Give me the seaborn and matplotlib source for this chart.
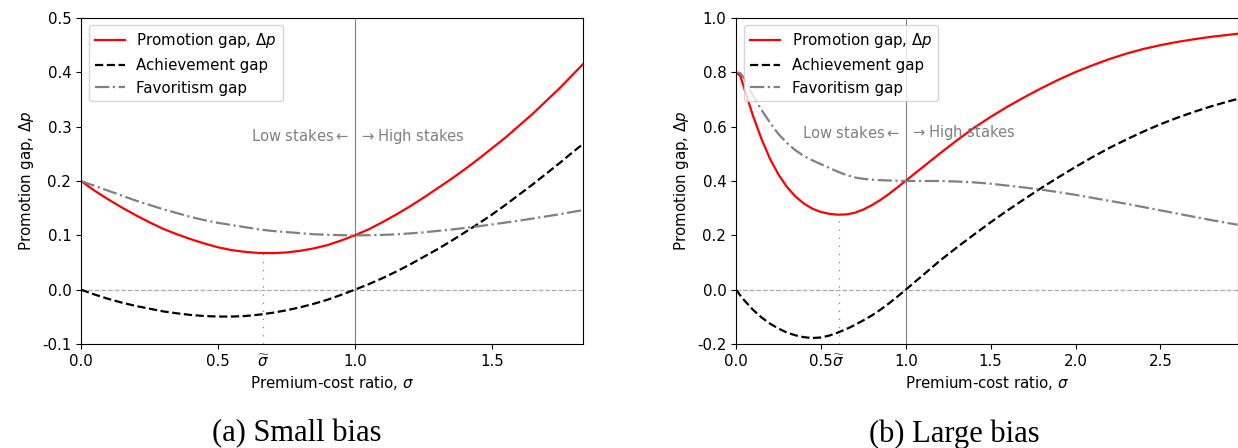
import numpy as np
import matplotlib
matplotlib.use("Agg")
import matplotlib.pyplot as plt
import seaborn as sns

# ---- panel (a): small bias ----
sigma_a = [0.00, 0.05, 0.10, 0.15, 0.20, 0.25, 0.30, 0.35, 0.40, 0.45,
           0.50, 0.55, 0.60, 0.65, 0.70, 0.75, 0.80, 0.85, 0.90, 0.95,
           1.00, 1.05, 1.10, 1.15, 1.20, 1.25, 1.30, 1.35, 1.40, 1.45,
           1.50, 1.55, 1.60, 1.65, 1.70, 1.75, 1.80, 1.833]
promo_a = [0.200, 0.182, 0.166, 0.151, 0.137, 0.124, 0.112, 0.102, 0.093, 0.085,
           0.078, 0.0728, 0.0695, 0.0675, 0.0672, 0.0685, 0.0715, 0.076, 0.082, 0.0905,
           0.100, 0.111, 0.124, 0.138, 0.153, 0.169, 0.186, 0.203, 0.221, 0.240,
           0.260, 0.280, 0.302, 0.324, 0.348, 0.372, 0.398, 0.415]
achieve_a = [0.000, -0.009, -0.017, -0.024, -0.030, -0.035, -0.040, -0.0435, -0.0465, -0.0485,
             -0.0495, -0.0495, -0.0485, -0.046, -0.0425, -0.038, -0.0325, -0.026, -0.0185, -0.0095,
             0.000, 0.010, 0.021, 0.033, 0.046, 0.060, 0.074, 0.089, 0.105, 0.121,
             0.138, 0.156, 0.175, 0.194, 0.214, 0.234, 0.255, 0.268]
favor_a = [0.200, 0.191, 0.182, 0.173, 0.164, 0.156, 0.148, 0.141, 0.134, 0.128,
           0.123, 0.119, 0.115, 0.111, 0.108, 0.106, 0.104, 0.102, 0.101, 0.1003,
           0.100, 0.1002, 0.1008, 0.1018, 0.1035, 0.1055, 0.108, 0.1105, 0.1135, 0.1165,
           0.120, 0.1235, 0.127, 0.131, 0.135, 0.139, 0.1435, 0.1465]
sig_tilde_a = 0.665

# ---- panel (b): large bias ----
sigma_b = [0.00, 0.025, 0.05, 0.10, 0.15, 0.20, 0.25, 0.30, 0.35, 0.40, 0.45,
           0.50, 0.55, 0.60, 0.65, 0.70, 0.75, 0.80, 0.85, 0.90, 0.95,
           1.00, 1.1, 1.2, 1.3, 1.4, 1.5, 1.6, 1.7, 1.8, 1.9,
           2.0, 2.1, 2.2, 2.3, 2.4, 2.5, 2.6, 2.7, 2.8, 2.9, 2.954]
promo_b = [0.800, 0.787, 0.738, 0.640, 0.555, 0.482, 0.424, 0.378, 0.343, 0.317, 0.298,
           0.286, 0.279, 0.276, 0.277, 0.283, 0.295, 0.311, 0.330, 0.352, 0.376,
           0.401, 0.451, 0.501, 0.549, 0.595, 0.636, 0.674, 0.709, 0.742, 0.773,
           0.801, 0.826, 0.849, 0.869, 0.886, 0.900, 0.912, 0.922, 0.931, 0.938, 0.942]
achieve_b = [0.000, -0.021, -0.040, -0.074, -0.102, -0.125, -0.143, -0.158, -0.168, -0.175, -0.178,
             -0.176, -0.169, -0.158, -0.145, -0.130, -0.113, -0.095, -0.074, -0.051, -0.026,
             0.000, 0.053, 0.106, 0.155, 0.202, 0.248, 0.292, 0.334, 0.375, 0.414,
             0.452, 0.488, 0.522, 0.553, 0.582, 0.609, 0.633, 0.655, 0.675, 0.693, 0.702]
favor_b = [0.800, 0.797, 0.776, 0.714, 0.662, 0.615, 0.573, 0.540, 0.513, 0.492, 0.476,
           0.462, 0.448, 0.434, 0.422, 0.413, 0.408, 0.405, 0.403, 0.402, 0.401,
           0.400, 0.400, 0.400, 0.398, 0.395, 0.390, 0.383, 0.376, 0.368, 0.359,
           0.349, 0.338, 0.327, 0.316, 0.304, 0.292, 0.280, 0.268, 0.256, 0.245, 0.239]
sig_tilde_b = 0.605

labels = ["Promotion gap, $\\Delta p$", "Achievement gap", "Favoritism gap"]
captions = ["(a) Small bias", "(b) Large bias"]

plt.rcParams['font.family'] = ['DejaVu Sans']
plt.rcParams['font.size'] = 10.8

fig = plt.figure(figsize=(12.38, 4.48), dpi=100)
ax_a = fig.add_axes([81 / 1238, 104 / 448, 502 / 1238, 326 / 448])
ax_b = fig.add_axes([736 / 1238, 104 / 448, 501.5 / 1238, 326 / 448])


def draw_panel(ax, x, promo, achieve, favor, sig_tilde, xlim, ylim, ystep, xticks, text_y):
    sns.lineplot(x=x, y=promo, ax=ax, color='red', lw=1.6, label=labels[0])
    sns.lineplot(x=x, y=achieve, ax=ax, color='black', lw=1.6, linestyle='--', label=labels[1])
    sns.lineplot(x=x, y=favor, ax=ax, color='gray', lw=1.6, linestyle='-.', label=labels[2])

    ax.axhline(0, color='darkgray', lw=0.9, linestyle='--', zorder=1)
    ax.axvline(1.0, color='gray', lw=0.8, zorder=1)
    y_min_promo = np.interp(sig_tilde, x, promo)
    ax.plot([sig_tilde, sig_tilde], [ylim[0], y_min_promo], color='gray',
            lw=0.9, linestyle=(0, (1, 5.5)), zorder=1)

    ax.annotate(r'Low stakes$\leftarrow$', xy=(1.0, text_y), xytext=(-4, 0),
                textcoords='offset points', ha='right', va='center',
                color='gray', fontsize=10.6)
    ax.annotate(r'$\rightarrow$High stakes', xy=(1.0, text_y), xytext=(3, 0),
                textcoords='offset points', ha='left', va='center',
                color='gray', fontsize=10.6)
    ax.annotate(r'$\widetilde{\sigma}$', xy=(sig_tilde, 0),
                xycoords=('data', 'axes fraction'), xytext=(0, -7),
                textcoords='offset points', ha='center', va='top', fontsize=10.8)

    ax.set_xlim(*xlim)
    ax.set_ylim(*ylim)
    ax.set_xticks(xticks)
    ax.set_yticks(np.arange(ylim[0], ylim[1] + ystep / 2, ystep))
    ax.set_xlabel("Premium-cost ratio, $\\sigma$")
    ax.set_ylabel("Promotion gap, $\\Delta p$")
    ax.legend(loc='upper left', fontsize=10.8)


draw_panel(ax_a, sigma_a, promo_a, achieve_a, favor_a, sig_tilde_a,
           (0, 1.833), (-0.1, 0.5), 0.1, [0.0, 0.5, 1.0, 1.5], 0.282)
draw_panel(ax_b, sigma_b, promo_b, achieve_b, favor_b, sig_tilde_b,
           (0, 2.954), (-0.2, 1.0), 0.2, [0.0, 0.5, 1.0, 1.5, 2.0, 2.5], 0.578)

for ax in (ax_a, ax_b):
    ax.yaxis.set_major_formatter(matplotlib.ticker.FormatStrFormatter('%.1f'))

fig.text(297 / 1238, 1 - 441.5 / 448, captions[0], ha='center', va='baseline',
         family='Liberation Serif', fontsize=22)
fig.text(954 / 1238, 1 - 441.5 / 448, captions[1], ha='center', va='baseline',
         family='Liberation Serif', fontsize=22)

fig.savefig('out.png', dpi=100)
